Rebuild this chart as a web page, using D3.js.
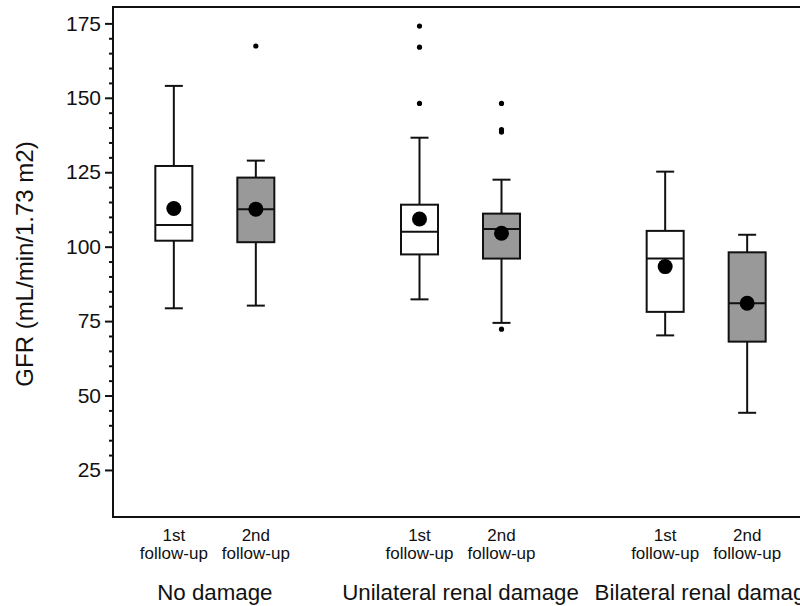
<!DOCTYPE html>
<html>
<head>
<meta charset="utf-8">
<script src="https://cdn.jsdelivr.net/npm/d3@7"></script>
<style>
  body { margin: 0; background: #fff; }
  svg { display: block; font-family: "Liberation Sans", Arial, sans-serif; }
</style>
</head>
<body>
<div id="chart"></div>
<script>
// ---- data ----
const groups = ["No damage", "Unilateral renal damage", "Bilateral renal damage"];
const visits = ["1st", "2nd"];
const visitSub = "follow-up";
const whiskerLow  = [79.3, 80.2, 82.3, 74.4, 70.2, 44.2];
const q1          = [102.0, 101.5, 97.4, 96.0, 78.1, 68.1];
const median      = [107.3, 112.6, 105.0, 105.9, 96.0, 81.0];
const q3          = [127.1, 123.2, 114.1, 111.1, 105.3, 98.1];
const whiskerHigh = [154.0, 128.9, 136.6, 122.5, 125.2, 104.0];
const means       = [112.8, 112.6, 109.3, 104.5, 93.3, 81.0];
const outliers    = [[], [167.4], [174.1, 167.0, 148.1], [148.1, 139.3, 138.5, 72.3], [], []];
const majorTicks  = [25, 50, 75, 100, 125, 150, 175];
const yLabel = "GFR (mL/min/1.73 m2)";

// ---- build records ----
const boxes = [];
groups.forEach((g, gi) => visits.forEach((v, vi) => {
  const i = gi * 2 + vi;
  boxes.push({ group: g, visit: v, low: whiskerLow[i], q1: q1[i], med: median[i], q3: q3[i],
               high: whiskerHigh[i], mean: means[i], out: outliers[i], filled: vi === 1 });
}));

const W = 800, H = 606;
const plot = { left: 113, top: 7, right: 812, bottom: 517 };

const svg = d3.select("#chart").append("svg").attr("width", W).attr("height", H);

const y = d3.scaleLinear().domain([9.2, 180.5]).range([plot.bottom, plot.top]);
const x0 = d3.scaleBand().domain(groups).range([92, 829]);
const bw = x0.bandwidth();
const x1 = d3.scalePoint().domain(visits).range([bw / 2 - 41, bw / 2 + 41]);
const cx = d => x0(d.group) + x1(d.visit);

const boxW = 37, capW = 18;

// frame
svg.append("rect")
  .attr("x", plot.left).attr("y", plot.top)
  .attr("width", plot.right - plot.left).attr("height", plot.bottom - plot.top)
  .attr("fill", "none").attr("stroke", "#111").attr("stroke-width", 2);

// y axis major
const yAxis = d3.axisLeft(y).tickValues(majorTicks).tickSize(8).tickPadding(4);
const ga = svg.append("g").attr("transform", `translate(${plot.left},0)`).call(yAxis);
ga.select(".domain").remove();
ga.selectAll(".tick line").attr("stroke", "#111").attr("stroke-width", 2);
ga.selectAll(".tick text").attr("font-size", 21).attr("fill", "#111")
  .attr("font-family", "Liberation Sans, Arial, sans-serif");

// minor ticks
const minorVals = d3.range(30, 175, 5).filter(v => v % 25 !== 0);
const gm = svg.append("g").attr("transform", `translate(${plot.left},0)`)
  .call(d3.axisLeft(y).tickValues(minorVals).tickSize(4).tickFormat(""));
gm.select(".domain").remove();
gm.selectAll(".tick line").attr("stroke", "#111").attr("stroke-width", 2);

// y label
svg.append("text")
  .attr("transform", `translate(33,${(plot.top + plot.bottom) / 2 + 2}) rotate(-90)`)
  .attr("text-anchor", "middle").attr("font-size", 24).attr("fill", "#111")
  .text(yLabel);

// boxes
const gb = svg.selectAll("g.box").data(boxes).enter().append("g").attr("class", "box");
// whiskers
gb.append("line").attr("x1", cx).attr("x2", cx).attr("y1", d => y(d.high)).attr("y2", d => y(d.q3))
  .attr("stroke", "#111").attr("stroke-width", 2);
gb.append("line").attr("x1", cx).attr("x2", cx).attr("y1", d => y(d.q1)).attr("y2", d => y(d.low))
  .attr("stroke", "#111").attr("stroke-width", 2);
// caps
gb.append("line").attr("x1", d => cx(d) - capW / 2).attr("x2", d => cx(d) + capW / 2)
  .attr("y1", d => y(d.high)).attr("y2", d => y(d.high)).attr("stroke", "#111").attr("stroke-width", 2);
gb.append("line").attr("x1", d => cx(d) - capW / 2).attr("x2", d => cx(d) + capW / 2)
  .attr("y1", d => y(d.low)).attr("y2", d => y(d.low)).attr("stroke", "#111").attr("stroke-width", 2);
// rect
gb.append("rect").attr("x", d => cx(d) - boxW / 2).attr("width", boxW)
  .attr("y", d => y(d.q3)).attr("height", d => y(d.q1) - y(d.q3))
  .attr("fill", d => d.filled ? "#999999" : "#ffffff")
  .attr("stroke", "#111").attr("stroke-width", 2);
// median
gb.append("line").attr("x1", d => cx(d) - boxW / 2).attr("x2", d => cx(d) + boxW / 2)
  .attr("y1", d => y(d.med)).attr("y2", d => y(d.med)).attr("stroke", "#111").attr("stroke-width", 2);
// mean
gb.append("circle").attr("cx", cx).attr("cy", d => y(d.mean)).attr("r", 7.5).attr("fill", "#000");
// outliers
gb.selectAll("circle.out").data(d => d.out.map(v => ({ v, x: cx(d) }))).enter()
  .append("circle").attr("class", "out").attr("cx", d => d.x).attr("cy", d => y(d.v))
  .attr("r", 2.6).attr("fill", "#000");

// x labels
const gl = svg.append("g").attr("fill", "#111");
boxes.forEach(d => {
  gl.append("text").attr("x", cx(d)).attr("y", 541).attr("text-anchor", "middle")
    .attr("font-size", 17).text(d.visit);
  gl.append("text").attr("x", cx(d)).attr("y", 559).attr("text-anchor", "middle")
    .attr("font-size", 17).text(visitSub);
});
groups.forEach((g, gi) => {
  gl.append("text").attr("x", x0(g) + bw / 2).attr("y", 600).attr("text-anchor", "middle")
    .attr("font-size", 22.3).text(g);
});
</script>
</body>
</html>
